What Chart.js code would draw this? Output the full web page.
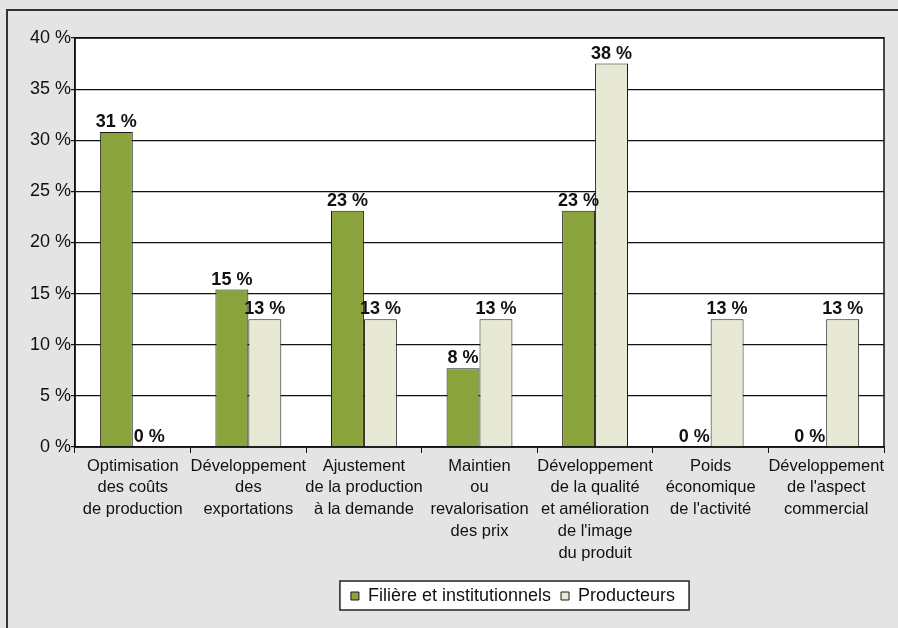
<!DOCTYPE html>
<html>
<head>
<meta charset="utf-8">
<script src="https://cdn.jsdelivr.net/npm/chart.js@4"></script>
<style>
  html, body { margin: 0; padding: 0; background: #e4e4e4; }
  canvas { display: block; }
</style>
</head>
<body>
<canvas id="grafico" width="898" height="628"></canvas>
<script>
const categories = [
    ['Optimisation', 'des coûts', 'de production'],
    ['Développement', 'des', 'exportations'],
    ['Ajustement', 'de la production', 'à la demande'],
    ['Maintien', 'ou', 'revalorisation', 'des prix'],
    ['Développement', 'de la qualité', 'et amélioration', 'de l\'image', 'du produit'],
    ['Poids', 'économique', 'de l\'activité'],
    ['Développement', 'de l\'aspect', 'commercial']
]
const filiere = [30.8, 15.4, 23.1, 7.7, 23.1, 0, 0]
const producteurs = [0, 12.5, 12.5, 12.5, 37.5, 12.5, 12.5]
const yTicks = [0, 5, 10, 15, 20, 25, 30, 35, 40]

const font = 'Liberation Sans, Arial, Helvetica, sans-serif'

// fond gris, cadre, zone blanche
const fond = {
    id: 'fond',
    afterLayout(chart) {
        // la legende est decalee vers la droite dans l'original
        const lg = chart.legend
        lg.left += 71
        lg.right += 71
    },
    beforeDraw(chart) {
        const c = chart.ctx
        const a = chart.chartArea
        c.save()
        c.fillStyle = '#e4e4e4'
        c.fillRect(0, 0, chart.width, chart.height)
        c.strokeStyle = '#333'
        c.lineWidth = 2
        c.beginPath()
        c.moveTo(7, chart.height)
        c.lineTo(7, 10)
        c.lineTo(chart.width, 10)
        c.stroke()
        c.fillStyle = '#fff'
        c.fillRect(a.left, a.top, a.right - a.left, a.bottom - a.top)
        // boite de la legende
        const lg = chart.legend
        if (lg && lg.legendHitBoxes.length) {
            const hb = lg.legendHitBoxes
            const x0 = hb[0].left - 11
            const x1 = hb[hb.length - 1].left + hb[hb.length - 1].width + 14
            const y0 = hb[0].top - 6
            const y1 = hb[0].top + hb[0].height + 5
            c.fillStyle = '#fff'
            c.fillRect(x0, y0, x1 - x0, y1 - y0)
            c.strokeStyle = '#222'
            c.lineWidth = 1.5
            c.strokeRect(x0, y0, x1 - x0, y1 - y0)
        }
        c.restore()
    },
    afterDatasetsDraw(chart) {
        const c = chart.ctx
        const a = chart.chartArea
        c.save()
        c.strokeStyle = '#111'
        c.lineWidth = 1.5
        c.strokeRect(a.left, a.top, a.right - a.left, a.bottom - a.top)
        // etiquettes des valeurs
        c.fillStyle = '#111'
        c.font = 'bold 18px ' + font
        c.textAlign = 'center'
        c.textBaseline = 'bottom'
        chart.data.datasets.forEach((ds, i) => {
            chart.getDatasetMeta(i).data.forEach((bar, j) => {
                c.fillText(Math.round(ds.data[j]) + ' %', bar.x, bar.y - 1)
            })
        })
        c.restore()
    }
}

new Chart(document.getElementById('grafico'), {
    type: 'bar',
    data: {
        labels: categories,
        datasets: [
            {
                label: 'Filière et institutionnels',
                data: filiere,
                backgroundColor: '#8ba33c',
                borderColor: '#1a1a1a',
                borderWidth: 1
            },
            {
                label: 'Producteurs',
                data: producteurs,
                backgroundColor: '#e7e9d5',
                borderColor: '#1a1a1a',
                borderWidth: 1
            }
        ]
    },
    options: {
        responsive: false,
        animation: false,
        layout: {
            padding: { left: 0, top: 38, right: 14, bottom: 13 }
        },
        datasets: {
            bar: { categoryPercentage: 0.57, barPercentage: 1.0 }
        },
        scales: {
            x: {
                grid: { drawOnChartArea: false, color: '#111', tickLength: 6, offset: true },
                border: { color: '#111', width: 1.5 },
                ticks: {
                    color: '#111',
                    font: { family: font, size: 16.5, lineHeight: 1.33 },
                    maxRotation: 0,
                    autoSkip: false,
                    padding: 2
                },
                afterFit(scale) { scale.height = 130 }
            },
            y: {
                min: 0,
                max: 40,
                afterBuildTicks(scale) { scale.ticks = yTicks.map(v => ({ value: v })) },
                grid: { color: '#111', lineWidth: 1.2, tickLength: 4 },
                border: { color: '#111', width: 1.5 },
                ticks: {
                    color: '#111',
                    font: { family: font, size: 18 },
                    padding: 0,
                    callback: v => v + ' %'
                },
                afterFit(scale) { scale.width = 75 }
            }
        },
        plugins: {
            legend: {
                position: 'bottom',
                labels: {
                    color: '#111',
                    font: { family: font, size: 18 },
                    boxWidth: 8,
                    boxHeight: 8,
                    padding: 10
                }
            },
            tooltip: { enabled: false }
        }
    },
    plugins: [fond]
})
</script>
</body>
</html>
